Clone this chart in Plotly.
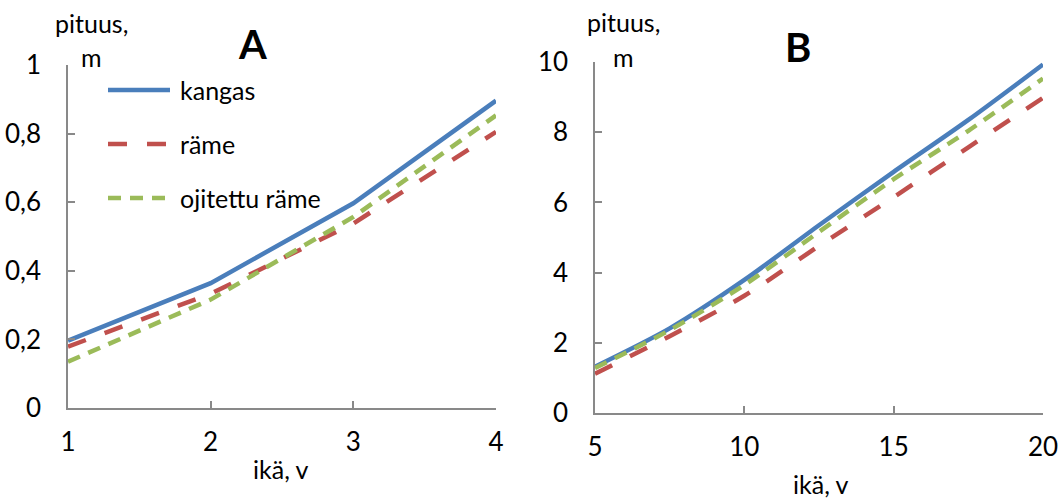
import plotly.graph_objects as go
from plotly.subplots import make_subplots

# ---- data ----
age_a = [1, 2, 3, 4]
kangas_a = [0.196, 0.364, 0.597, 0.896]
rame_a = [0.179, 0.333, 0.538, 0.805]
ojitettu_a = [0.135, 0.316, 0.557, 0.853]

age_b = [5, 7.5, 10, 12.5, 15, 17.5, 20]
kangas_b = [1.32, 2.41, 3.79, 5.35, 6.87, 8.35, 9.93]
rame_b = [1.12, 2.19, 3.34, 4.76, 6.15, 7.57, 8.98]
ojitettu_b = [1.28, 2.36, 3.65, 5.16, 6.66, 8.04, 9.53]

series_names = ["kangas", "räme", "ojitettu räme"]
y_ticks_a = [0, 0.2, 0.4, 0.6, 0.8, 1]
y_ticks_b = [0, 2, 4, 6, 8, 10]
x_ticks_a = [1, 2, 3, 4]
x_ticks_b = [5, 10, 15, 20]

# ---- styles ----
W, H = 1059, 504
FONT = "Lato"
BLUE = "#4A7EBB"
RED = "#C0504D"
GREEN = "#9BBB59"
AXIS = "#898989"
LW = 4.5
styles = [
    dict(color=BLUE, width=LW, dash="solid"),
    dict(color=RED, width=LW, dash="19px,20px"),
    dict(color=GREEN, width=LW, dash="13px,9px"),
]

def px_x(p):
    return p / W

def px_y(p):
    return 1 - p / H

fig = make_subplots(rows=1, cols=2)

for ys, st, nm in zip([kangas_a, rame_a, ojitettu_a], styles, series_names):
    fig.add_trace(go.Scatter(x=age_a, y=ys, mode="lines", name=nm, line=st,
                             showlegend=False), row=1, col=1)
for ys, st, nm in zip([kangas_b, rame_b, ojitettu_b], styles, series_names):
    fig.add_trace(go.Scatter(x=age_b, y=ys, mode="lines", name=nm,
                             line=dict(**st, shape="spline", smoothing=0.8),
                             showlegend=False), row=1, col=2)

common_axis = dict(showline=True, linecolor=AXIS, linewidth=1.5, showgrid=False,
                   zeroline=False, ticks="inside", ticklen=7, tickcolor=AXIS,
                   tickwidth=1.5, automargin=False,
                   tickfont=dict(family=FONT, size=26, color="black"))

fig.update_xaxes(**common_axis)
fig.update_yaxes(**common_axis)

fig.update_layout(
    xaxis=dict(domain=[px_x(68), px_x(496)], range=[1, 4], tickvals=x_ticks_a,
               ticklabelstandoff=10),
    yaxis=dict(domain=[px_y(408), px_y(65)], range=[0, 1], tickvals=y_ticks_a,
               ticklabelstandoff=20),
    xaxis2=dict(domain=[px_x(595), px_x(1043)], range=[5, 20], tickvals=x_ticks_b,
                ticklabelstandoff=10),
    yaxis2=dict(domain=[px_y(413), px_y(62)], range=[0, 10], tickvals=y_ticks_b,
                ticklabelstandoff=20),
    separators=", ",
    width=W, height=H,
    margin=dict(l=0, r=0, t=0, b=0, autoexpand=False),
    paper_bgcolor="white", plot_bgcolor="white",
    font=dict(family=FONT, size=24, color="black"),
)

def note(text, x, y, size=25, bold=False, xanchor="center"):
    fig.add_annotation(text=f"<b>{text}</b>" if bold else text,
                       x=px_x(x), y=px_y(y), xref="paper", yref="paper",
                       xanchor=xanchor, yanchor="middle", showarrow=False,
                       font=dict(family=FONT, size=size, color="black"))

# axis titles and panel letters
note("pituus,", 91, 23)
note("m", 91, 57)
note("pituus,", 623, 22)
note("m", 623, 57)
note("A", 252, 44, size=40, bold=True)
note("B", 798, 47, size=40, bold=True)
note("ikä, v", 281, 469)
note("ikä, v", 821, 484)

# legend (panel A)
legend_rows = [90, 144, 198]
for nm, st, ry in zip(series_names, styles, legend_rows):
    fig.add_shape(type="line", xref="paper", yref="paper",
                  x0=px_x(108), x1=px_x(170), y0=px_y(ry), y1=px_y(ry),
                  line=dict(color=st["color"], width=st["width"], dash=st["dash"]))
    note(nm, 178, ry, size=25, xanchor="left")

fig.write_html(
    "out.html",
    config={"displayModeBar": False},
    post_script="document.body.style.margin='0';document.body.style.overflow='hidden';",
)
